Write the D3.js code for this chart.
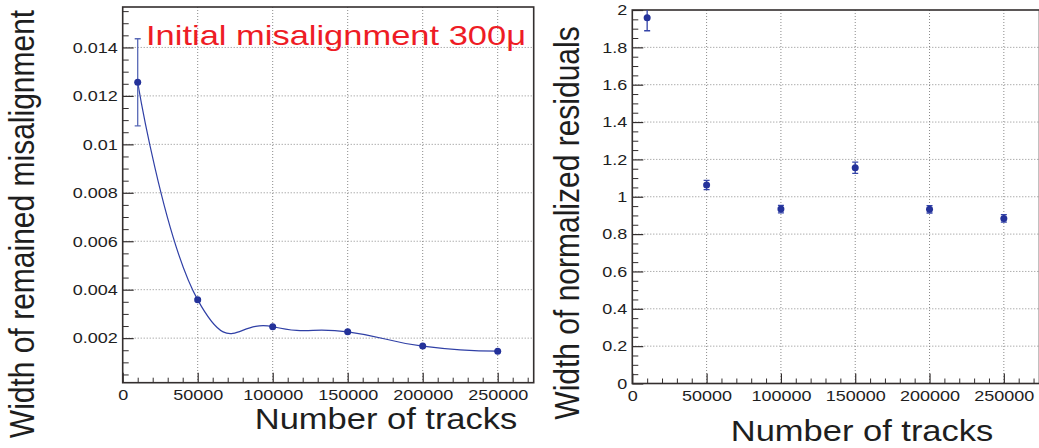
<!DOCTYPE html>
<html>
<head>
<meta charset="utf-8">
<script src="https://cdn.jsdelivr.net/npm/d3@7"></script>
<style>
  html, body { margin: 0; padding: 0; background: #fff; }
  svg { display: block; font-family: "Liberation Sans", Arial, Helvetica, sans-serif; }
</style>
</head>
<body>
<svg id="chart" width="1039" height="448"></svg>
<script>
// ---- data ----
const tracks = [10000, 50000, 100000, 150000, 200000, 250000];
const misalignWidth = [0.01256, 0.00358, 0.00247, 0.00226, 0.00167, 0.00146];
const misalignErr = [0.0018, 0.00005, 0.00003, 0.00003, 0.00002, 0.00002];
const residualWidth = [1.959, 1.063, 0.934, 1.155, 0.933, 0.884];
const residualErr = [0.07, 0.025, 0.02, 0.03, 0.02, 0.02];

// ---- axes ----
const xTicks = [0, 50000, 100000, 150000, 200000, 250000];
const xTickLabels = ["0", "50000", "100000", "150000", "200000", "250000"];
const leftYTicks = [0.002, 0.004, 0.006, 0.008, 0.010, 0.012, 0.014];
const leftYTickLabels = ["0.002", "0.004", "0.006", "0.008", "0.01", "0.012", "0.014"];
const rightYTicks = [0, 0.2, 0.4, 0.6, 0.8, 1.0, 1.2, 1.4, 1.6, 1.8, 2.0];
const rightYTickLabels = ["0", "0.2", "0.4", "0.6", "0.8", "1", "1.2", "1.4", "1.6", "1.8", "2"];
const xDomain = [0, 274000];
const leftYDomain = [0.00016, 0.01567];
const rightYDomain = [0, 2];

const titleText = "Initial misalignment 300\u03bc";
const xTitle = "Number of tracks";
const leftYTitle = "Width of remained misalignment";
const rightYTitle = "Width of normalized residuals";

// ---- styles ----
const FRAME = "#332e2e";
const MARKER = "#24329a";
const CURVE = "#3040a6";
const GRID = "#8a8a8a";
const TEXT = "#1e1e1e";
const TICK_FS = 15, TICK_SX = 1.2;
const TITLE_FS = 30, TITLE_SX = 1.15;

const svg = d3.select("#chart");

function stretchedText(parent, x, y, str, size, sx, anchor, rotate, fill) {
  return parent.append("text")
    .attr("transform", `translate(${x},${y}) scale(${sx},1)` + (rotate ? " rotate(-90)" : ""))
    .attr("text-anchor", anchor)
    .attr("font-size", size)
    .attr("fill", fill || TEXT)
    .text(str);
}

function drawPanel(p) {
  const x = d3.scaleLinear().domain(xDomain).range([p.x0, p.x1]);
  const y = d3.scaleLinear().domain(p.yDomain).range([p.y1, p.y0]);
  const g = svg.append("g");
  const clipId = "clip" + p.id;
  svg.append("clipPath").attr("id", clipId)
    .append("rect").attr("x", p.x0).attr("y", p.y0)
    .attr("width", p.x1 - p.x0).attr("height", p.y1 - p.y0);

  // dotted grid at major ticks
  g.append("g").selectAll("line").data(xTicks.filter(d => d > xDomain[0]))
    .join("line")
    .attr("x1", d => x(d)).attr("x2", d => x(d))
    .attr("y1", p.y0).attr("y2", p.y1)
    .attr("stroke", GRID).attr("stroke-width", 1).attr("stroke-dasharray", "1,2");
  g.append("g").selectAll("line").data(p.yTicks.filter(d => d > p.yDomain[0] && d < p.yDomain[1]))
    .join("line")
    .attr("x1", p.x0).attr("x2", p.x1)
    .attr("y1", d => y(d)).attr("y2", d => y(d))
    .attr("stroke", GRID).attr("stroke-width", 1).attr("stroke-dasharray", "1,2");

  // minor ticks
  const xMinor = d3.range(0, xDomain[1], 10000).filter(d => d % 50000 !== 0);
  const yMinor = d3.range(0, p.yDomain[1] + 1e-9, p.yMinorStep)
    .filter(d => d >= p.yDomain[0] && !p.yTicks.some(t => Math.abs(t - d) < 1e-9));
  g.append("g").attr("transform", `translate(0,${p.y1})`)
    .call(d3.axisBottom(x).tickValues(xMinor).tickSize(-5).tickFormat(""))
    .call(a => a.select(".domain").remove())
    .selectAll("line").attr("stroke", FRAME);
  g.append("g").attr("transform", `translate(${p.x0},0)`)
    .call(d3.axisLeft(y).tickValues(yMinor).tickSize(-6).tickFormat(""))
    .call(a => a.select(".domain").remove())
    .selectAll("line").attr("stroke", FRAME);

  // major ticks + labels
  const xa = g.append("g").attr("transform", `translate(0,${p.y1})`)
    .call(d3.axisBottom(x).tickValues(xTicks).tickSize(-10).tickPadding(7)
      .tickFormat((d, i) => xTickLabels[i]));
  xa.select(".domain").remove();
  xa.selectAll("line").attr("stroke", FRAME).attr("stroke-width", 1.2);
  xa.selectAll("text").attr("font-size", TICK_FS).attr("fill", TEXT)
    .attr("font-family", "Liberation Sans, Arial, sans-serif")
    .attr("transform", `scale(${TICK_SX},1)`);

  const ya = g.append("g").attr("transform", `translate(${p.x0},0)`)
    .call(d3.axisLeft(y).tickValues(p.yTicks).tickSize(-11).tickPadding(5)
      .tickFormat((d, i) => p.yTickLabels[i]));
  ya.select(".domain").remove();
  ya.selectAll("line").attr("stroke", FRAME).attr("stroke-width", 1.2);
  ya.selectAll("text").attr("font-size", TICK_FS).attr("fill", TEXT)
    .attr("font-family", "Liberation Sans, Arial, sans-serif")
    .attr("x", -5 / TICK_SX)
    .attr("transform", `scale(${TICK_SX},1)`);

  // frame
  g.append("rect").attr("x", p.x0).attr("y", p.y0)
    .attr("width", p.x1 - p.x0).attr("height", p.y1 - p.y0)
    .attr("fill", "none").attr("stroke", FRAME).attr("stroke-width", 1.6);

  const pts = tracks.map((t, i) => ({ t, v: p.values[i], e: p.errors[i] }));
  const plot = g.append("g").attr("clip-path", `url(#${clipId})`);

  if (p.curve) {
    plot.append("path").datum(pts)
      .attr("d", d3.line().x(d => x(d.t)).y(d => y(d.v)).curve(d3.curveCardinal.tension(-0.5)))
      .attr("fill", "none").attr("stroke", CURVE).attr("stroke-width", 1.2);
  }

  // error bars
  const eb = plot.append("g").attr("stroke", p.errColor).attr("stroke-width", 1.3);
  eb.selectAll("line.v").data(pts).join("line").attr("class", "v")
    .attr("x1", d => x(d.t)).attr("x2", d => x(d.t))
    .attr("y1", d => y(d.v + d.e)).attr("y2", d => y(d.v - d.e));
  eb.selectAll("line.c1").data(pts).join("line").attr("class", "c1")
    .attr("x1", d => x(d.t) - 3).attr("x2", d => x(d.t) + 3)
    .attr("y1", d => y(d.v + d.e)).attr("y2", d => y(d.v + d.e));
  eb.selectAll("line.c2").data(pts).join("line").attr("class", "c2")
    .attr("x1", d => x(d.t) - 3).attr("x2", d => x(d.t) + 3)
    .attr("y1", d => y(d.v - d.e)).attr("y2", d => y(d.v - d.e));

  plot.append("g").selectAll("circle").data(pts).join("circle")
    .attr("cx", d => x(d.t)).attr("cy", d => y(d.v)).attr("r", 3.5)
    .attr("fill", MARKER);

  // axis titles
  stretchedText(svg, (p.xTitleX0 + p.xTitleX1) / 2, p.xTitleY, xTitle, TITLE_FS, TITLE_SX, "middle", false);
  stretchedText(svg, p.yTitleX, p.yTitleY, p.yTitle, TITLE_FS, TITLE_SX, "middle", true);
}

drawPanel({
  id: "L", x0: 122.7, x1: 533.7, y0: 7, y1: 382.7,
  yDomain: leftYDomain, yTicks: leftYTicks, yTickLabels: leftYTickLabels, yMinorStep: 0.0005,
  values: misalignWidth, errors: misalignErr, curve: true, errColor: "#5868b6",
  xTitleX0: 255, xTitleX1: 517, xTitleY: 429,
  yTitle: leftYTitle, yTitleX: 33.5, yTitleY: 224
});

drawPanel({
  id: "R", x0: 632.3, x1: 1039.5, y0: 10, y1: 383.5,
  yDomain: rightYDomain, yTicks: rightYTicks, yTickLabels: rightYTickLabels, yMinorStep: 0.05,
  values: residualWidth, errors: residualErr, curve: false, errColor: "#3444a8",
  xTitleX0: 731, xTitleX1: 993, xTitleY: 441,
  yTitle: rightYTitle, yTitleX: 579, yTitleY: 223
});

// annotation
svg.append("text")
  .attr("x", 146).attr("y", 45)
  .attr("font-size", 28)
  .attr("fill", "#ee1c25")
  .attr("textLength", 380).attr("lengthAdjust", "spacingAndGlyphs")
  .text(titleText);
</script>
</body>
</html>
